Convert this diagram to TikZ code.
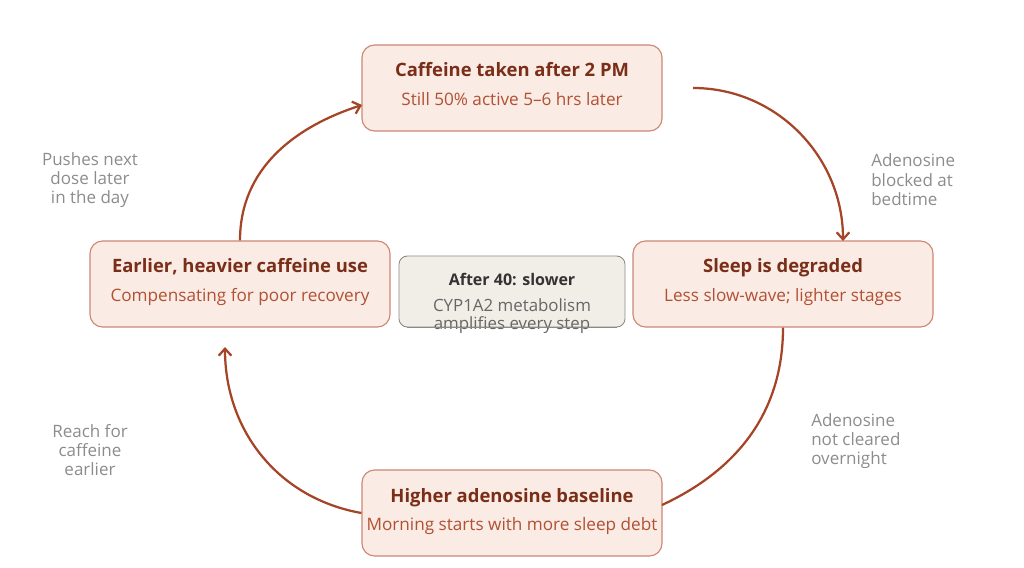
\documentclass[tikz,border=0pt]{standalone}
\usepackage{fontspec}
\setmainfont{Open Sans}
\usetikzlibrary{arrows.meta}
\definecolor{boxfill}{RGB}{250,235,229}
\definecolor{boxline}{RGB}{205,135,115}
\definecolor{titlecol}{RGB}{122,46,24}
\definecolor{subcol}{RGB}{178,80,50}
\definecolor{loopcol}{RGB}{166,68,40}
\definecolor{notecol}{RGB}{140,140,140}
\definecolor{grayfill}{RGB}{241,238,232}
\definecolor{grayline}{RGB}{140,138,130}
\tikzset{
  x=0.025cm,y=0.025cm,
  stepbox/.style={draw=boxline,fill=boxfill,line width=0.8pt,rounded corners=9pt,minimum width=7.5cm,minimum height=2.15cm},
  steptitle/.style={anchor=base,inner sep=0pt,text=titlecol,font=\fontsize{13.1}{15}\selectfont\bfseries},
  stepsub/.style={anchor=base,inner sep=0pt,text=subcol,font=\fontsize{12.2}{14}\selectfont},
  note/.style={inner sep=0pt,text=notecol,font=\fontsize{12.1}{13.8}\selectfont},
  loop/.style={draw=loopcol,line width=1.6pt,-{Straight Barb[length=5pt,width=9pt]}}
}
\newcommand{\stepnode}[5]{\node[stepbox] (#3) at (#1,#2) {};
  \node[steptitle] (#3t) at ([yshift=0.275cm]#3.center) {#4};
  \node[stepsub] (#3s) at ([yshift=-0.43cm]#3.center) {#5};}

\begin{document}
\begin{tikzpicture}
	\useasboundingbox (0,0) rectangle (1024,567);
	\stepnode{512}{479}{dose}{Caffeine taken after 2 PM}{Still 50\% active 5–6 hrs later}
	\stepnode{783}{283}{sleep}{Sleep is degraded}{Less slow-wave; lighter stages}
	\stepnode{512}{54}{base}{Higher adenosine baseline}{Morning starts with more sleep debt}
	\stepnode{240}{283}{use}{Earlier, heavier caffeine use}{Compensating for poor recovery}
	\node[draw=grayline,fill=grayfill,line width=0.6pt,rounded corners=6pt,minimum width=5.65cm,minimum height=1.775cm] (age) at (512,275.5) {};
	\node[anchor=base,inner sep=0pt,text=black!80,font=\fontsize{11.4}{13}\selectfont\bfseries] (aget) at ([yshift=0.14cm]age.center) {After 40: slower};
	\node[anchor=base,inner sep=0pt,text=black!60,font=\fontsize{12}{13}\selectfont] (ages) at ([yshift=-0.49cm]age.center) {CYP1A2 metabolism};
	\node[anchor=base,inner sep=0pt,text=black!60,font=\fontsize{12}{13}\selectfont] (agea) at ([yshift=-0.96cm]age.center) {amplifies every step};
	\draw[grayline,line width=0.6pt] ([xshift=6pt]age.south west) -- ([xshift=-6pt]age.south east);
	\coordinate (c1) at (693,479);
	\coordinate (c2) at (843,326);
	\coordinate (c3) at (662,62);
	\coordinate (c4) at (225,220);
	\coordinate (c5) at (362,462);
	\draw[loop] (c1) to[out=0,in=90] (c2);
	\draw[loop,-] (sleep.south) to[out=-90,in=25] (c3);
	\draw[loop] (base.west) to[out=170,in=-90] (c4);
	\draw[loop] (use.north) to[out=90,in=198] (c5);
	\node[note,align=center] (n1) at (90,387) {Pushes next\\dose later\\in the day};
	\node[note,align=left,anchor=west] (n2) at (871,387) {Adenosine\\blocked at\\bedtime};
	\node[note,align=left,anchor=west] (n3) at (811,126) {Adenosine\\not cleared\\overnight};
	\node[note,align=center] (n4) at (90,117) {Reach for\\caffeine\\earlier};
\end{tikzpicture}
\end{document}
